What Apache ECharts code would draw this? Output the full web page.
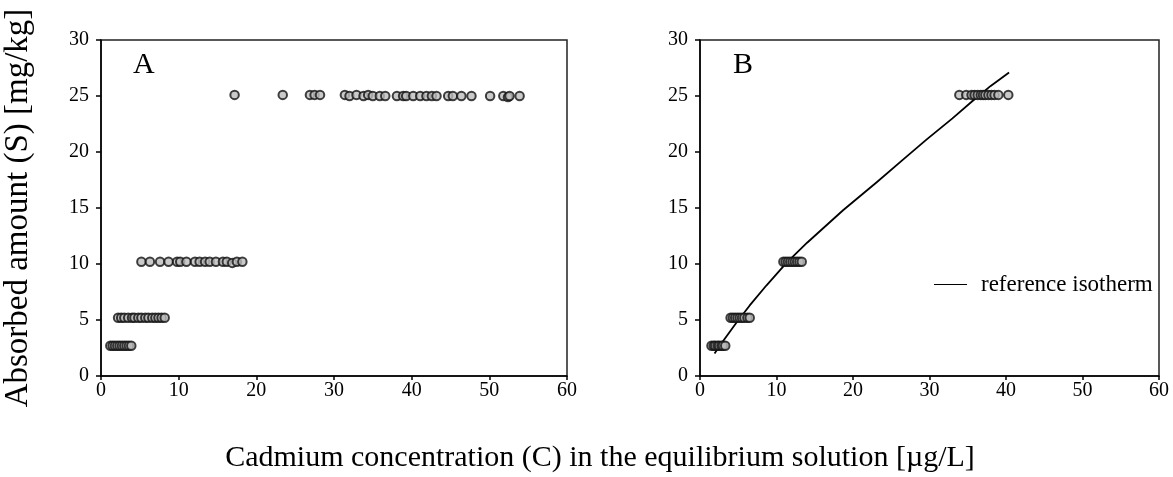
<!DOCTYPE html>
<html><head><meta charset="utf-8">
<script src="https://cdn.jsdelivr.net/npm/echarts@6/dist/echarts.min.js"></script>
<style>html,body{margin:0;padding:0;background:#fff}#c{width:1173px;height:477px}</style>
</head><body><div id="c"></div>
<script>
// Panel A observations (C in µg/L, S in mg/kg)
const aC_lvl1 = [1.2, 1.5, 1.8, 2.1, 2.4, 2.7, 3.0, 3.3, 3.6, 3.9];
const aS_lvl1 = [2.7, 2.7, 2.7, 2.7, 2.7, 2.7, 2.7, 2.7, 2.7, 2.7];
const aC_lvl2 = [2.2, 2.6, 3.0, 3.5, 4.0, 4.3, 4.8, 5.2, 5.7, 6.1, 6.6, 7.0, 7.4, 7.8, 8.2];
const aS_lvl2 = [5.2, 5.2, 5.2, 5.2, 5.2, 5.2, 5.2, 5.2, 5.2, 5.2, 5.2, 5.2, 5.2, 5.2, 5.2];
const aC_lvl3 = [5.2, 6.3, 7.6, 8.7, 9.8, 10.2, 11.0, 12.1, 12.7, 13.4, 14.0, 14.8, 15.7, 16.2, 16.9, 17.5, 18.2];
const aS_lvl3 = [10.2, 10.2, 10.2, 10.2, 10.2, 10.2, 10.2, 10.2, 10.2, 10.2, 10.2, 10.2, 10.2, 10.2, 10.1, 10.2, 10.2];
const aC_lvl4 = [17.2, 23.4, 26.9, 27.5, 28.2, 31.4, 32.0, 32.9, 33.8, 34.4, 35.0, 35.9, 36.6, 38.1, 38.9, 39.3, 40.2, 41.1, 41.9, 42.6, 43.2, 44.7, 45.3, 46.4, 47.7, 50.1, 51.8, 52.4, 52.6, 53.9];
const aS_lvl4 = [25.1, 25.1, 25.1, 25.1, 25.1, 25.1, 25.0, 25.1, 25.0, 25.1, 25.0, 25.0, 25.0, 25.0, 25.0, 25.0, 25.0, 25.0, 25.0, 25.0, 25.0, 25.0, 25.0, 25.0, 25.0, 25.0, 25.0, 24.9, 25.0, 25.0];
// Panel B observations
const bC = [1.5, 1.8, 2.0, 2.3, 2.5, 2.8, 3.0, 3.3,
            4.0, 4.3, 4.6, 4.9, 5.2, 5.5, 5.8, 6.2, 6.5,
            10.9, 11.2, 11.5, 11.8, 12.1, 12.4, 12.7, 13.0, 13.3,
            33.9, 34.8, 35.5, 35.9, 36.3, 36.7, 37.0, 37.3, 37.7, 38.1, 38.5, 39.0, 40.3];
const bS = [2.7, 2.7, 2.7, 2.7, 2.7, 2.7, 2.7, 2.7,
            5.2, 5.2, 5.2, 5.2, 5.2, 5.2, 5.2, 5.2, 5.2,
            10.2, 10.2, 10.2, 10.2, 10.2, 10.2, 10.2, 10.2, 10.2,
            25.1, 25.1, 25.1, 25.1, 25.1, 25.1, 25.1, 25.1, 25.1, 25.1, 25.1, 25.1, 25.1];
// Reference isotherm
const isoC = [1.9, 3.0, 4.8, 6.5, 8.7, 11.3, 14.0, 18.7, 23.1, 26.5, 29.6, 33.0, 35.7, 38.0, 40.4];
const isoS = [2.0, 3.1, 4.8, 6.3, 8.1, 10.1, 11.9, 14.8, 17.3, 19.3, 21.1, 23.0, 24.6, 25.9, 27.1];
const xTicks = [0, 10, 20, 30, 40, 50, 60];
const yTicks = [0, 5, 10, 15, 20, 25, 30];
const panelLabels = ['A', 'B'];
const legendLabel = 'reference isotherm';
const xTitle = 'Cadmium concentration (C) in the equilibrium solution [µg/L]';
const yTitle = 'Absorbed amount (S) [mg/kg]';

const zip = (xs, ys) => xs.map((x, i) => [x, ys[i]]);
const FONT = '"Liberation Serif", "DejaVu Serif", serif';

const mkX = (gi) => ({
  type: 'value', gridIndex: gi, min: xTicks[0], max: xTicks[xTicks.length - 1], interval: 10,
  axisLine: {show: true, lineStyle: {color: '#000', width: 1.5}},
  axisTick: {show: true, inside: false, length: 4, lineStyle: {color: '#000', width: 1.5}},
  axisLabel: {color: '#000', fontFamily: FONT, fontSize: 20, margin: 5},
  splitLine: {show: false}
});
const mkY = (gi, name) => ({
  type: 'value', gridIndex: gi, min: yTicks[0], max: yTicks[yTicks.length - 1], interval: 5,
  name: name, nameLocation: 'middle', nameGap: 66,
  nameTextStyle: {color: '#000', fontFamily: FONT, fontSize: 33},
  axisLine: {show: true, lineStyle: {color: '#000', width: 1.5}},
  axisTick: {show: true, inside: false, length: 5, lineStyle: {color: '#000', width: 1.5}},
  axisLabel: {color: '#000', fontFamily: FONT, fontSize: 20, margin: 12},
  splitLine: {show: false}
});
const pt = {color: '#bdbdbd', borderColor: '#111', borderWidth: 2};
const sc = (gi, data) => ({type: 'scatter', xAxisIndex: gi, yAxisIndex: gi, data, symbol: 'circle', symbolSize: 8.5, itemStyle: pt, silent: true});

const chart = echarts.init(document.getElementById('c'), null, {renderer: 'canvas'});
chart.setOption({
  animation: false,
  backgroundColor: '#fff',
  grid: [
    {left: 101, right: 606, top: 40, bottom: 101, show: true, borderColor: '#222', borderWidth: 1.5, backgroundColor: 'transparent'},
    {left: 700, right: 14, top: 40, bottom: 101, show: true, borderColor: '#222', borderWidth: 1.5, backgroundColor: 'transparent'}
  ],
  xAxis: [mkX(0), mkX(1)],
  yAxis: [mkY(0, yTitle), mkY(1, '')],
  legend: {
    data: [legendLabel], left: 929, top: 268, itemWidth: 33, itemHeight: 10, itemGap: 16,
    icon: 'path://M0,4.4L33,4.4L33,5.6L0,5.6Z',
    textStyle: {color: '#000', fontFamily: FONT, fontSize: 23, padding: [0, 0, 0, 9]},
    itemStyle: {color: '#000'}
  },
  series: [
    sc(0, zip(aC_lvl1, aS_lvl1)),
    sc(0, zip(aC_lvl2, aS_lvl2)),
    sc(0, zip(aC_lvl3, aS_lvl3)),
    sc(0, zip(aC_lvl4, aS_lvl4)),
    {name: legendLabel, type: 'line', xAxisIndex: 1, yAxisIndex: 1, data: zip(isoC, isoS), smooth: false, symbol: 'none', lineStyle: {color: '#000', width: 1.8, join: 'round'}, itemStyle: {color: '#000'}, z: 1},
    Object.assign(sc(1, zip(bC, bS)), {z: 3})
  ],
  graphic: [
    {type: 'text', left: 133, top: 50, style: {text: panelLabels[0], font: '30px ' + FONT, fill: '#000'}},
    {type: 'text', left: 733, top: 50, style: {text: panelLabels[1], font: '30px ' + FONT, fill: '#000'}},
    {type: 'text', x: 600, y: 458, style: {text: xTitle, font: '30px ' + FONT, fill: '#000', textAlign: 'center', textVerticalAlign: 'middle'}}
  ]
});
</script></body></html>
